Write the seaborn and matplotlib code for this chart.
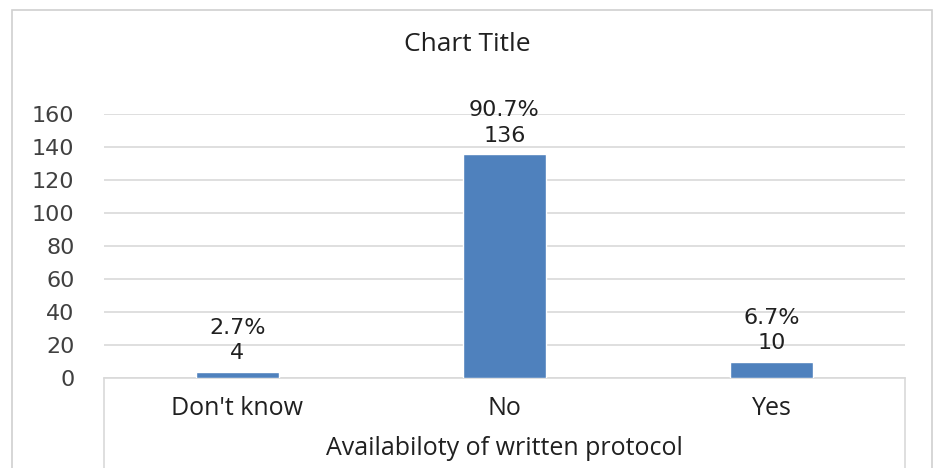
import matplotlib
matplotlib.use("Agg")
import matplotlib.pyplot as plt
import pandas as pd
import seaborn as sns
from matplotlib.lines import Line2D
from matplotlib.patches import Rectangle

categories = ["Don't know", "No", "Yes"]
counts = [4, 136, 10]
percents = ["2.7%", "90.7%", "6.7%"]
y_ticks = [0, 20, 40, 60, 80, 100, 120, 140, 160]

df = pd.DataFrame({"category": categories, "count": counts})

sns.set_theme(style="white")
plt.rcParams["font.family"] = ["DejaVu Sans"]
text_font = ["Open Sans", "DejaVu Sans"]

fig = plt.figure(figsize=(9.34, 4.68), dpi=100)
ax = fig.add_axes([0.111, 0.192, 0.858, 0.564])

sns.barplot(data=df, x="category", y="count", color="#4F81BD", width=0.31,
            saturation=1, ax=ax, zorder=3)

ax.set_ylim(0, 160)
ax.set_yticks(y_ticks)
ax.set_yticklabels([str(t) for t in y_ticks], fontsize=16, color="#404040")
ax.yaxis.grid(True, color="#D9D9D9", linewidth=1.2, zorder=0)
ax.tick_params(axis="y", length=0, pad=21)
ax.tick_params(axis="x", length=0, pad=13)
ax.set_xticks(range(len(categories)))
ax.set_xticklabels(categories, fontsize=18, family=text_font, color="#202020")
ax.set_xlabel("Availabiloty of written protocol", fontsize=18,
              family=text_font, color="#202020", labelpad=11)
ax.set_ylabel("")

for s in ["top", "right", "left"]:
    ax.spines[s].set_visible(False)
ax.spines["bottom"].set_color("#D9D9D9")
ax.spines["bottom"].set_linewidth(1.2)

# category box below the axis
for xa in [0, 1]:
    ax.add_line(Line2D([xa, xa], [0, -0.4], transform=ax.transAxes,
                       color="#D9D9D9", linewidth=1.2, clip_on=False))

for i, (c, p) in enumerate(zip(counts, percents)):
    ax.text(i, c + 5, f"{p}\n{c}", ha="center", va="bottom", fontsize=16,
            color="#202020", linespacing=1.35)

fig.text(0.5, 0.905, "Chart Title", ha="center", va="center", fontsize=19,
         family=text_font, color="#202020")

# chart frame
fig.add_artist(Rectangle((0.013, -0.1), 0.985, 1.078, transform=fig.transFigure,
                         fill=False, edgecolor="#D0D0D0", linewidth=1.2))

fig.savefig("out.png", dpi=100)
